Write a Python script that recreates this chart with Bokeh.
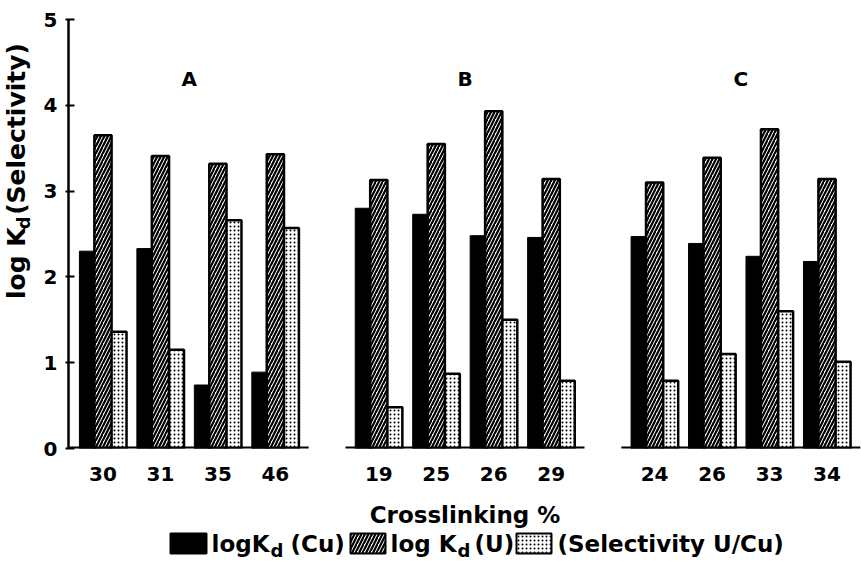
import numpy as np
from bokeh.plotting import figure
from bokeh.models import Range1d, FixedTicker, ColumnDataSource
from bokeh.layouts import column, row
from bokeh.embed import file_html
from bokeh.resources import INLINE
from bokeh.core.properties import value

# ---- data ----
groups = ["A", "B", "C"]
crosslinking = [["30", "31", "35", "46"],
                ["19", "25", "26", "29"],
                ["24", "26", "33", "34"]]
logkd_cu = [[2.30, 2.33, 0.74, 0.89],
            [2.80, 2.73, 2.48, 2.46],
            [2.47, 2.39, 2.24, 2.18]]
logkd_u = [[3.65, 3.41, 3.32, 3.43],
           [3.13, 3.55, 3.93, 3.14],
           [3.10, 3.39, 3.72, 3.14]]
selectivity = [[1.36, 1.15, 2.66, 2.57],
               [0.48, 0.87, 1.50, 0.79],
               [0.79, 1.10, 1.60, 1.01]]
y_ticks = [0, 1, 2, 3, 4, 5]
x_title = "Crosslinking %"

# ---- layout helpers (positions computed, not data) ----
GROUP_STEP = 24
CLUSTER_STEP = 5
OFF = 1.3
BW = 1.5
FONT = "DejaVu Sans"
W, H_MAIN, H_LEG, W_YLAB = 861, 530, 36, 40
FRAME_BOTTOM = 448

pos, labs, cu, u, sel = [], [], [], [], []
grp_x, seg_x0, seg_x1 = [], [], []
for gi, g in enumerate(groups):
    gp = []
    for ci, lab in enumerate(crosslinking[gi]):
        x = gi * GROUP_STEP + ci * CLUSTER_STEP
        gp.append(x)
        pos.append(x)
        labs.append(lab)
        cu.append(logkd_cu[gi][ci])
        u.append(logkd_u[gi][ci])
        sel.append(selectivity[gi][ci])
    grp_x.append(float(np.mean(gp)))
    seg_x0.append(gp[0] - 2.9)
    seg_x1.append(gp[-1] + 2.9)

pos = np.array(pos, dtype=float)
src = ColumnDataSource(dict(x_cu=pos - OFF, x_u=pos, x_sel=pos + OFF,
                            cu=cu, u=u, sel=sel))


def clean(fig):
    fig.outline_line_color = None
    fig.background_fill_color = "white"
    fig.border_fill_color = "white"
    fig.xgrid.visible = False
    fig.ygrid.visible = False


# ---------------- main plot ----------------
p = figure(width=W - W_YLAB, height=H_MAIN, output_backend="svg",
           toolbar_location=None,
           x_range=Range1d(-3.0, 66.0), y_range=Range1d(0, 5),
           min_border_left=25, min_border_right=0, min_border_top=19,
           min_border_bottom=H_MAIN - FRAME_BOTTOM)
clean(p)

p.vbar(x="x_cu", top="cu", width=BW, bottom=0, source=src,
       fill_color="black", line_color="black", line_width=1)
p.vbar(x="x_sel", top="sel", width=BW, bottom=0, source=src,
       fill_color="white", line_color="black", line_width=2.5,
       hatch_pattern=".", hatch_color="black", hatch_scale=4, hatch_weight=1)
p.vbar(x="x_u", top="u", width=BW, bottom=0, source=src,
       fill_color="white", line_color="black", line_width=2.5,
       hatch_pattern="/", hatch_color="black", hatch_scale=7, hatch_weight=2.2)

p.segment(x0=seg_x0, y0=[0] * 3, x1=seg_x1, y1=[0] * 3,
          line_color="black", line_width=4)

p.text(x=grp_x, y=[4.31] * 3, text=groups, text_font=value(FONT),
       text_font_style="bold", text_font_size="20px",
       text_align="center", text_baseline="middle", text_color="black")

xa = p.xaxis[0]
xa.ticker = FixedTicker(ticks=list(pos))
xa.major_label_overrides = {float(k): v for k, v in zip(pos, labs)}
xa.axis_line_color = None
xa.major_tick_line_color = None
xa.minor_tick_line_color = None
xa.major_label_standoff = 12
xa.major_label_text_font = FONT
xa.major_label_text_font_style = "bold"
xa.major_label_text_font_size = "20px"
xa.major_label_text_color = "black"
xa.axis_label = x_title
xa.axis_label_text_font = FONT
xa.axis_label_text_font_style = "bold"
xa.axis_label_text_font_size = "23px"
xa.axis_label_text_color = "black"
xa.axis_label_standoff = 18

ya = p.yaxis[0]
ya.ticker = FixedTicker(ticks=y_ticks)
ya.axis_line_width = 2.5
ya.axis_line_color = "black"
ya.major_tick_in = 6
ya.major_tick_out = 3
ya.major_tick_line_width = 2
ya.minor_tick_line_color = None
ya.major_label_standoff = 8
ya.major_label_text_font = FONT
ya.major_label_text_font_style = "bold"
ya.major_label_text_font_size = "20px"
ya.major_label_text_color = "black"

# ---------------- y-axis title (with subscript) ----------------
# this panel's frame is aligned with the main frame: it spans 0..FRAME_BOTTOM
yl = figure(width=W_YLAB, height=H_MAIN, output_backend="svg",
            toolbar_location=None, x_axis_type=None, y_axis_type=None,
            x_range=Range1d(0, W_YLAB), y_range=Range1d(0, FRAME_BOTTOM),
            min_border_left=0, min_border_right=0, min_border_top=0,
            min_border_bottom=H_MAIN - FRAME_BOTTOM, title=None)
clean(yl)
A = np.pi / 2
# positions given as distance from the top of the panel
top_log, top_d, top_sel = 292, 219, 204
yl.text(x=[16, 16], y=[FRAME_BOTTOM - top_log, FRAME_BOTTOM - top_sel],
        text=["log K", "(Selectivity)"], angle=A,
        text_font=value(FONT), text_font_style="bold", text_font_size="25px",
        text_align="left", text_baseline="middle", text_color="black")
yl.text(x=[23], y=[FRAME_BOTTOM - top_d], text=["d"], angle=A,
        text_font=value(FONT), text_font_style="bold", text_font_size="18px",
        text_align="left", text_baseline="middle", text_color="black")

# ---------------- legend ----------------
lg = figure(width=W, height=H_LEG, output_backend="svg", toolbar_location=None,
            x_axis_type=None, y_axis_type=None,
            x_range=Range1d(0, W), y_range=Range1d(0, H_LEG),
            min_border_left=0, min_border_right=0, min_border_top=0,
            min_border_bottom=0, title=None)
clean(lg)
ly = H_LEG - 13
lg.quad(left=[170], right=[206], bottom=[ly - 10], top=[ly + 10],
        fill_color="black", line_color="black", line_width=2)
lg.quad(left=[350], right=[385], bottom=[ly - 10], top=[ly + 10],
        fill_color="white", line_color="black", line_width=2,
        hatch_pattern="/", hatch_color="black", hatch_scale=7, hatch_weight=2.2)
lg.quad(left=[516], right=[551], bottom=[ly - 10], top=[ly + 10],
        fill_color="white", line_color="black", line_width=2,
        hatch_pattern=".", hatch_color="black", hatch_scale=4, hatch_weight=1)
lg.text(x=[211, 290, 390, 474, 557], y=[ly] * 5,
        text=["logK", "(Cu)", "log K", "(U)", "(Selectivity U/Cu)"],
        text_font=value(FONT), text_font_style="bold", text_font_size="23px",
        text_align="left", text_baseline="middle", text_color="black")
lg.text(x=[270, 457], y=[ly - 7] * 2, text=["d", "d"],
        text_font=value(FONT), text_font_style="bold", text_font_size="18px",
        text_align="left", text_baseline="middle", text_color="black")

layout = column(row(yl, p), lg)
open("out.html", "w").write(file_html(layout, INLINE))
